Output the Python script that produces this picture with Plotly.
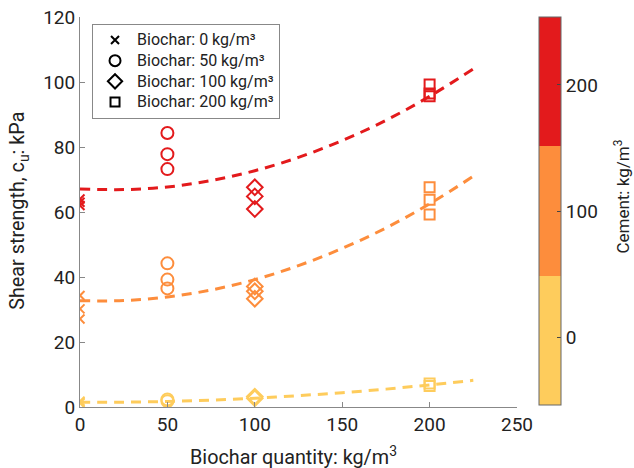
import plotly.graph_objects as go

FONT = "Roboto"
TXT = "#222"
RED, ORANGE, YELLOW = "#E31A1C", "#FD8D3C", "#FECC5C"

# Measured data: biochar quantity (kg/m3) -> shear strength (kPa), per cement content
cement_levels = [200, 100, 0]
colors = {200: RED, 100: ORANGE, 0: YELLOW}

biochar_groups = [0, 50, 100, 200]
symbols = {0: "x-thin-open", 50: "circle-open", 100: "diamond-open", 200: "square-open"}
sizes = {0: 9, 50: 12, 100: 12, 200: 10}

strength = {
    200: {0: [64, 63, 62], 50: [84.3, 77.8, 73.2], 100: [67.6, 64.8, 60.9], 200: [99.2, 96.5, 95.6]},
    100: {0: [34.3, 30.2, 27.1], 50: [44.2, 39.2, 36.5], 100: [37.1, 35.6, 33.3], 200: [67.6, 63.8, 59.2]},
    0:   {0: [1.8, 1.5, 1.2], 50: [2.3, 1.8], 100: [3.2, 2.7], 200: [7.2, 6.5]},
}

# Fitted trend lines
fit_x = [0, 25, 50, 75, 100, 125, 150, 175, 200, 225]
fit_y = {
    200: [67.1, 66.9, 67.7, 69.7, 72.7, 76.8, 82.0, 88.2, 95.6, 104.0],
    100: [32.7, 32.75, 33.85, 36.0, 39.2, 43.5, 48.8, 55.1, 62.5, 71.0],
    0:   [1.5, 1.5, 1.7, 2.1, 2.7, 3.5, 4.4, 5.5, 6.8, 8.2],
}

x_ticks = [0, 50, 100, 150, 200, 250]
y_ticks = [0, 20, 40, 60, 80, 100, 120]
colorbar_ticks = [0, 100, 200]

fig = go.Figure()

for c in cement_levels:
    fig.add_trace(go.Scatter(x=fit_x, y=fit_y[c], mode="lines", line_shape="spline",
                             line=dict(color=colors[c], width=3, dash="10px,7px"),
                             showlegend=False, hoverinfo="skip"))
    for b in biochar_groups:
        ys = strength[c][b]
        fig.add_trace(go.Scatter(x=[b] * len(ys), y=ys, mode="markers",
                                 marker=dict(symbol=symbols[b], size=sizes[b], color=colors[c],
                                             line=dict(color=colors[c], width=2)),
                                 showlegend=False))

for b in biochar_groups:
    fig.add_trace(go.Scatter(x=[None], y=[None], mode="markers",
                             name=f'<span style="font-size:16px">Biochar: {b} kg/m³</span>',
                             marker=dict(symbol=symbols[b], size=sizes[b] - 1, color="black",
                                         line=dict(color="black", width=2))))

# colorbar carrier
fig.add_trace(go.Scatter(
    x=[None], y=[None], mode="markers", showlegend=False, hoverinfo="skip",
    marker=dict(color=[0], cmin=-53.6, cmax=253.6,
                colorscale=[[0, YELLOW], [1/3, YELLOW], [1/3, ORANGE], [2/3, ORANGE], [2/3, RED], [1, RED]],
                showscale=True,
                colorbar=dict(x=(540 - 80) / 437.5, xanchor="left", xpad=0,
                              y=(407.3 - 211.5) / 390, yanchor="middle", ypad=0,
                              lenmode="pixels", len=388, thickness=22,
                              outlinewidth=1, outlinecolor="#666",
                              tickvals=colorbar_ticks, ticks="inside", ticklen=4, tickcolor="#444",
                              tickfont=dict(size=19, color=TXT, family=FONT)))))

fig.update_layout(
    width=634, height=468,
    margin=dict(l=80, r=117, t=17, b=61, autoexpand=False),
    paper_bgcolor="white", plot_bgcolor="white",
    font=dict(family=FONT, color=TXT),
    legend=dict(x=0.0275, y=0.983, xanchor="left", yanchor="top",
                bordercolor="#888", borderwidth=1, bgcolor="white",
                font=dict(size=13.6, family=FONT, color=TXT), tracegroupgap=0, itemwidth=34),
    annotations=[
        dict(text="Biochar quantity: kg/m<sup>3</sup>", xref="paper", yref="paper",
             x=(293.5 - 80) / 437.5, y=-(456 - 407.3) / 390, xanchor="center", yanchor="middle",
             showarrow=False, font=dict(size=19.8, family=FONT, color=TXT)),
        dict(text="Shear strength, c<sub>u</sub>: kPa", xref="paper", yref="paper",
             x=-(80 - 18.5) / 437.5, y=(407.3 - 211.5) / 390, xanchor="center", yanchor="middle",
             textangle=-90, showarrow=False, font=dict(size=19.8, family=FONT, color=TXT)),
        dict(text="Cement: kg/m<sup>3</sup>", xref="paper", yref="paper",
             x=(623 - 80) / 437.5, y=(407.3 - 196.5) / 390, xanchor="center", yanchor="middle",
             textangle=-90, showarrow=False, font=dict(size=17, family=FONT, color=TXT)),
    ],
)
fig.update_xaxes(range=[0, 250], tickvals=x_ticks, showgrid=False, zeroline=False,
                 showline=True, linecolor="#888", linewidth=1, ticks="inside", ticklen=5, tickcolor="#888",
                 tickfont=dict(size=19))
fig.update_yaxes(range=[0, 120], tickvals=y_ticks, showgrid=False, zeroline=False,
                 showline=True, linecolor="#888", linewidth=1, ticks="inside", ticklen=5, tickcolor="#888",
                 tickfont=dict(size=19))

fig.write_html("out.html", config={"displayModeBar": False},
               post_script="document.body.style.margin='0';")
